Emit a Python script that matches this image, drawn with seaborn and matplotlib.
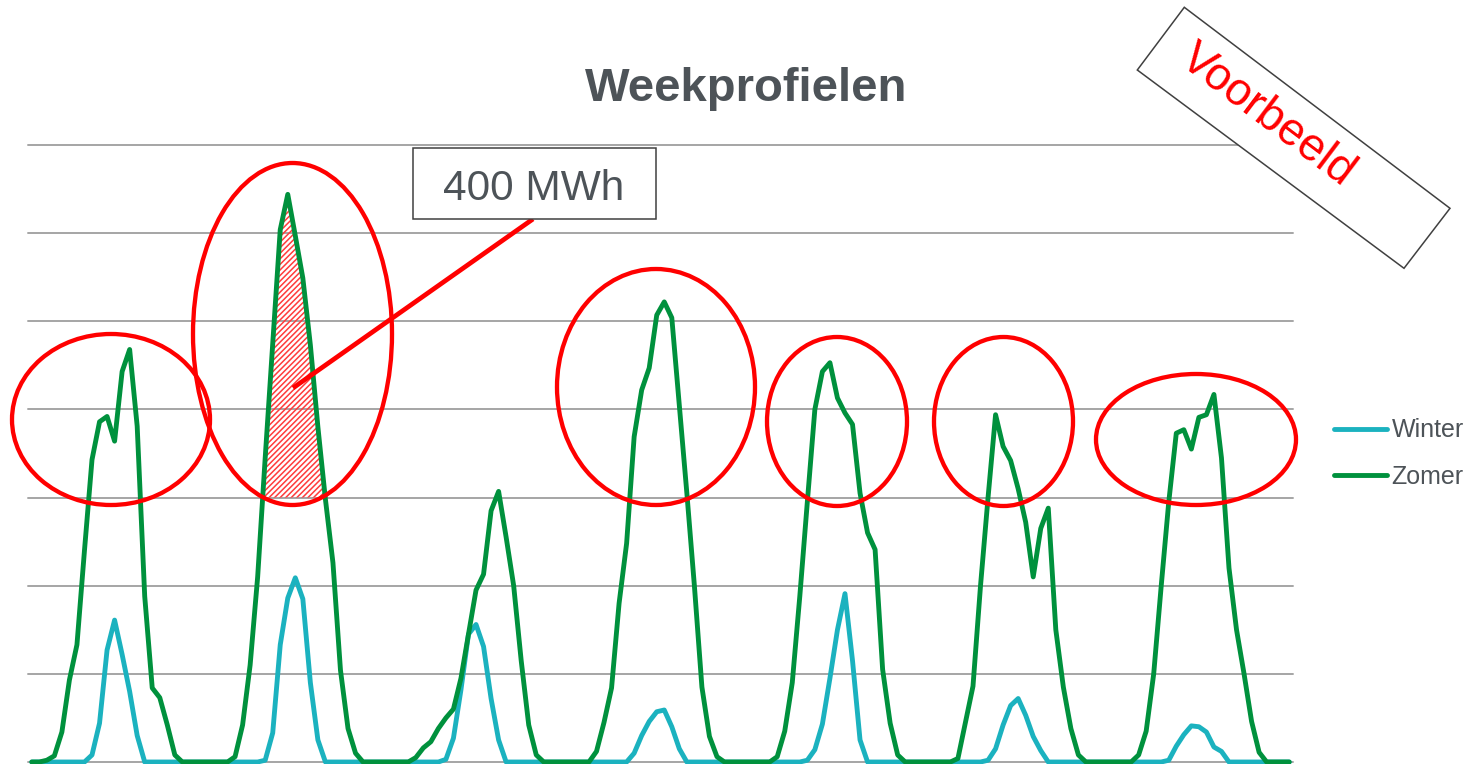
import numpy as np
import pandas as pd
import matplotlib
matplotlib.use('Agg')
import matplotlib.pyplot as plt
import seaborn as sns
from matplotlib.patches import Ellipse, Polygon, Rectangle

sns.set_theme(style='white')
plt.rcParams['font.family'] = ['Liberation Sans', 'DejaVu Sans']
plt.rcParams['lines.solid_capstyle'] = 'round'
plt.rcParams['lines.solid_joinstyle'] = 'round'
plt.rcParams['hatch.linewidth'] = 1.1

# uurwaarden per dag (24 uur), eenheid = 1 rasterlijn
zomer_d1 = [0, 0, 0.02, 0.07, 0.34, 0.93, 1.33, 2.40, 3.43, 3.86, 3.92, 3.64, 4.43, 4.68, 3.81, 1.88, 0.84, 0.73, 0.42, 0.08, 0, 0, 0, 0]
zomer_d2 = [0, 0, 0, 0.06, 0.42, 1.10, 2.10, 3.45, 4.75, 6.04, 6.44, 5.97, 5.49, 4.73, 3.80, 2.98, 2.26, 1.04, 0.38, 0.10, 0, 0, 0, 0]
zomer_d3 = [0, 0, 0, 0.05, 0.16, 0.23, 0.38, 0.50, 0.60, 0.95, 1.45, 1.95, 2.13, 2.85, 3.07, 2.55, 2.00, 1.15, 0.42, 0.08, 0, 0, 0, 0]
zomer_d4 = [0, 0, 0, 0.12, 0.45, 0.84, 1.80, 2.48, 3.69, 4.22, 4.47, 5.07, 5.22, 5.04, 4.04, 3.05, 2.00, 0.85, 0.29, 0.06, 0, 0, 0, 0]
zomer_d5 = [0, 0, 0, 0.06, 0.35, 0.90, 1.88, 2.95, 4.00, 4.43, 4.53, 4.13, 3.96, 3.83, 3.05, 2.60, 2.41, 1.05, 0.44, 0.08, 0, 0, 0, 0]
zomer_d6 = [0, 0, 0, 0.04, 0.45, 0.86, 2.00, 3.00, 3.94, 3.58, 3.42, 3.10, 2.72, 2.10, 2.65, 2.88, 1.50, 0.85, 0.38, 0.08, 0, 0, 0, 0]
zomer_d7 = [0, 0, 0, 0.08, 0.35, 1.00, 2.00, 2.95, 3.73, 3.77, 3.55, 3.91, 3.94, 4.17, 3.45, 2.20, 1.50, 1.00, 0.46, 0.11, 0, 0, 0, 0]

winter_d1 = [0, 0, 0, 0, 0, 0, 0, 0, 0.08, 0.44, 1.27, 1.61, 1.22, 0.80, 0.30, 0, 0, 0, 0, 0, 0, 0, 0, 0]
winter_d2 = [0, 0, 0, 0, 0, 0, 0, 0.02, 0.33, 1.33, 1.86, 2.09, 1.85, 0.90, 0.25, 0, 0, 0, 0, 0, 0, 0, 0, 0]
winter_d3 = [0, 0, 0, 0, 0, 0, 0, 0.03, 0.27, 0.82, 1.45, 1.56, 1.31, 0.72, 0.25, 0, 0, 0, 0, 0, 0, 0, 0, 0]
winter_d4 = [0, 0, 0, 0, 0, 0, 0, 0, 0.10, 0.30, 0.46, 0.57, 0.59, 0.40, 0.15, 0, 0, 0, 0, 0, 0, 0, 0, 0]
winter_d5 = [0, 0, 0, 0, 0, 0, 0, 0.02, 0.14, 0.43, 0.95, 1.50, 1.91, 1.15, 0.25, 0, 0, 0, 0, 0, 0, 0, 0, 0]
winter_d6 = [0, 0, 0, 0, 0, 0, 0, 0.02, 0.15, 0.42, 0.64, 0.72, 0.53, 0.29, 0.13, 0, 0, 0, 0, 0, 0, 0, 0, 0]
winter_d7 = [0, 0, 0, 0, 0, 0, 0, 0.02, 0.18, 0.31, 0.41, 0.40, 0.34, 0.17, 0.12, 0, 0, 0, 0, 0, 0, 0, 0, 0]

zomer = zomer_d1 + zomer_d2 + zomer_d3 + zomer_d4 + zomer_d5 + zomer_d6 + zomer_d7
winter = winter_d1 + winter_d2 + winter_d3 + winter_d4 + winter_d5 + winter_d6 + winter_d7
uren = np.arange(len(zomer))

df = pd.DataFrame({'uur': np.concatenate([uren, uren]),
                   'vermogen': winter + zomer,
                   'seizoen': ['Winter'] * len(winter) + ['Zomer'] * len(zomer)})

kleuren = {'Winter': '#1BB2BF', 'Zomer': '#00913D'}
tekstkleur = '#4D5358'

fig = plt.figure(figsize=(14.74, 7.64), dpi=100)
ax = fig.add_axes([28 / 1474, 2 / 764, 1265 / 1474, 617 / 764])
sns.lineplot(data=df, x='uur', y='vermogen', hue='seizoen', hue_order=['Winter', 'Zomer'],
             palette=kleuren, linewidth=3.5, ax=ax)
for ln in ax.lines:
    ln.set_clip_on(False)

# gearceerde piek (dag 2, boven rasterlijn 3)
z = np.array(zomer)
piek = (uren >= 24) & (uren < 48) & (z >= 3)
ax.fill_between(uren, 3, z, where=piek, interpolate=True, facecolor='none',
                edgecolor='#FF3B3B', hatch='//////', linewidth=0, zorder=1.5)

ax.set_xlim(-0.5, 167.5)
ax.set_ylim(0, 7)
ax.set_yticks(range(8))
ax.set_xticks([])
ax.tick_params(left=False, labelleft=False, bottom=False)
ax.yaxis.grid(True, color='#A5A5A5', linewidth=1.4)
for gl in ax.get_ygridlines():
    gl.set_clip_on(False)
ax.set_axisbelow(True)
sns.despine(ax=ax, left=True, bottom=True)
ax.set_xlabel('')
ax.set_ylabel('')

sns.move_legend(ax, 'center left', bbox_to_anchor=(1334 / 1474, 1 - 453.5 / 764),
                bbox_transform=fig.transFigure, title=None, frameon=False, fontsize=18,
                handlelength=2.1, handletextpad=0.2, labelspacing=0.9,
                borderpad=0, borderaxespad=0, labelcolor=tekstkleur)

# annotaties in pixelcoordinaten
ov = fig.add_axes([0, 0, 1, 1])
ov.set_xlim(0, 1474)
ov.set_ylim(764, 0)
ov.axis('off')
ov.patch.set_alpha(0)

ov.text(746, 101, 'Weekprofielen', fontsize=34, fontweight='bold', color=tekstkleur,
        ha='center', va='baseline')

ellipsen = [(111, 419.5, 198, 171), (292.5, 334, 199, 342), (656, 387, 198, 236),
            (837, 421.5, 140, 169), (1003.5, 421.5, 139, 169), (1196, 439.5, 200, 131)]
for cx, cy, w, h in ellipsen:
    ov.add_patch(Ellipse((cx, cy), w, h, fill=False, edgecolor='red', linewidth=3.1))

ov.plot([293, 533], [388, 219], color='red', linewidth=3.4, solid_capstyle='butt')
ov.add_patch(Rectangle((413.5, 147.5), 242.5, 71.5, facecolor='white', edgecolor='#404040',
                       linewidth=1.1, zorder=3))
ov.text(534, 200, '400 MWh', fontsize=30.5, color=tekstkleur, ha='center', va='baseline', zorder=4)

ov.add_patch(Polygon([(1184.3, 7.3), (1450, 208.3), (1404, 268.3), (1137.3, 70)],
                     closed=True, facecolor='white', edgecolor='#404040', linewidth=1.1, zorder=3))
ov.text(1267, 116, 'Voorbeeld', fontsize=33, color='red', rotation=-37, rotation_mode='anchor',
        ha='center', va='center', zorder=4)

fig.savefig('out.png', dpi=100)
